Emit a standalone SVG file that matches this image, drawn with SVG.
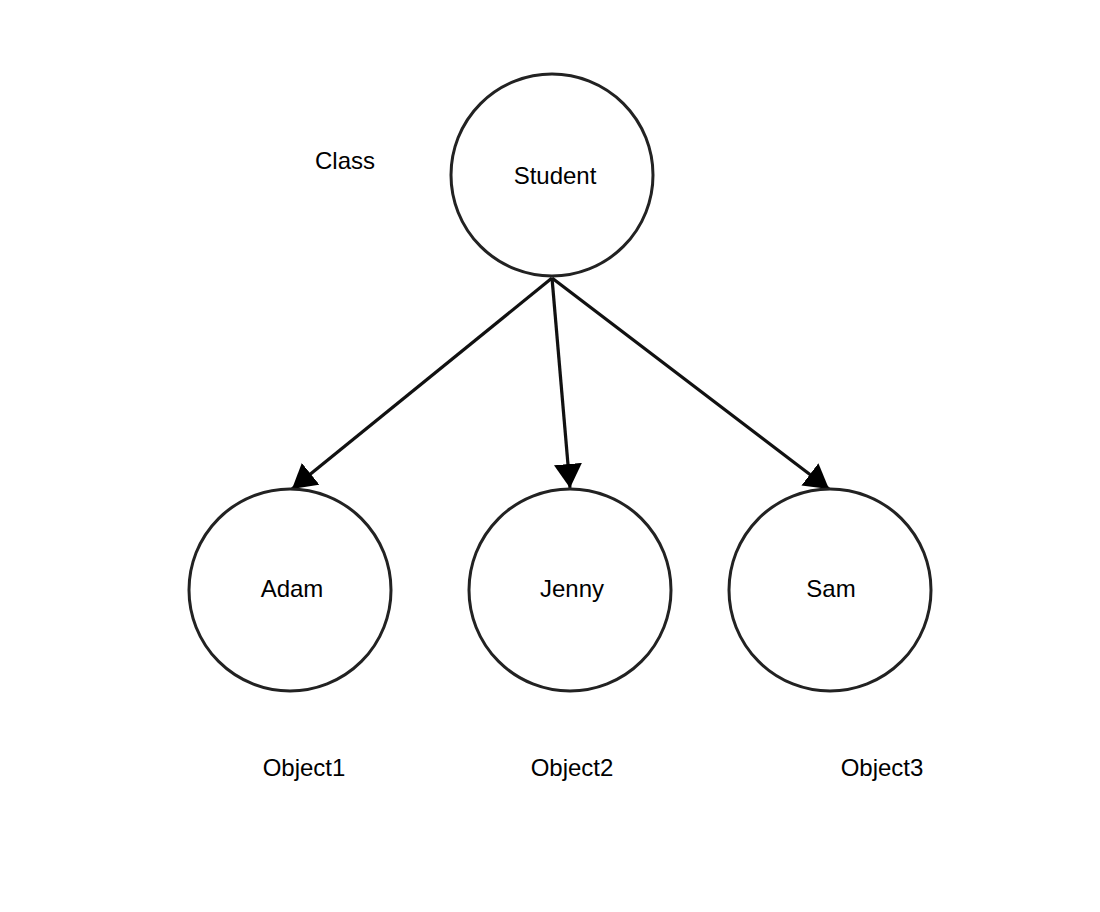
<svg xmlns="http://www.w3.org/2000/svg" width="1100" height="912" viewBox="0 0 1100 912">
<style>
.node circle{fill:#fff;stroke:#222;stroke-width:3}
text{font-family:"Liberation Sans",Arial,sans-serif;font-size:24px;fill:#000;text-anchor:middle}
.edge{stroke:#111;stroke-width:3.2;fill:none;marker-end:url(#ah)}
</style>
<defs>
<marker id="ah" markerUnits="userSpaceOnUse" markerWidth="26" markerHeight="30" refX="24" refY="14" orient="auto" viewBox="0 0 26 30">
<polygon points="0,0 24,14 0,28" fill="#000"/>
</marker>
</defs>
<rect width="1100" height="912" fill="#fff"/>
<g id="connectors">
<path class="edge" d="M552,278 L292,489"/>
<path class="edge" d="M552,278 L570,488"/>
<path class="edge" d="M552,278 L829,489"/>
</g>
<g id="student" class="node"><circle cx="552" cy="175" r="101"/><text x="555" y="184">Student</text></g>
<g id="adam" class="node"><circle cx="290" cy="590" r="101"/><text x="292" y="597">Adam</text></g>
<g id="jenny" class="node"><circle cx="570" cy="590" r="101"/><text x="572" y="597">Jenny</text></g>
<g id="sam" class="node"><circle cx="830" cy="590" r="101"/><text x="831" y="597">Sam</text></g>
<g id="labels">
<text x="345" y="169">Class</text>
<text x="304" y="776">Object1</text>
<text x="572" y="776">Object2</text>
<text x="882" y="776">Object3</text>
</g>
</svg>
